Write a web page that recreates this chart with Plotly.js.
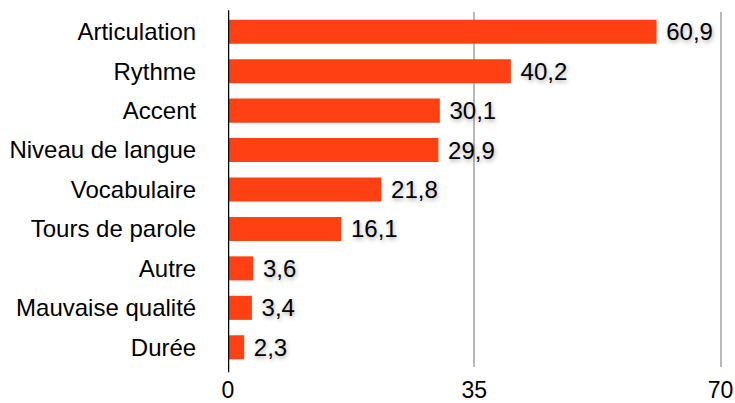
<!DOCTYPE html>
<html>
<head>
<meta charset="utf-8">
<script src="https://cdn.plot.ly/plotly-3.0.1.min.js"></script>
<style>html,body{margin:0;padding:0;background:#fff;}#chart{width:735px;height:403px;}</style>
</head>
<body>
<div id="chart"></div>
<script>
const categories = ["Articulation", "Rythme", "Accent", "Niveau de langue", "Vocabulaire", "Tours de parole", "Autre", "Mauvaise qualité", "Durée"];
const values = [60.9, 40.2, 30.1, 29.9, 21.8, 16.1, 3.6, 3.4, 2.3];
const xTickVals = [0, 35, 70];
const xTickText = ["0", "35", "70"];

const font = "Liberation Sans, Arial, Helvetica, sans-serif";

const trace = {
  type: "bar",
  orientation: "h",
  x: values,
  y: categories,
  marker: { color: "#FF4013" },
  texttemplate: "\u00a0%{x:.1f}",
  textposition: "outside",
  constraintext: "none",
  cliponaxis: false,
  textfont: { family: font, size: 24, color: "#000", shadow: "1px 2px 4px rgba(0,0,0,0.35)" },
  hoverinfo: "none"
};

const layout = {
  width: 735,
  height: 403,
  margin: { l: 228, r: 13, t: 12, b: 36, pad: 0 },
  paper_bgcolor: "#fff",
  plot_bgcolor: "#fff",
  separators: ", ",
  bargap: 0.39,
  showlegend: false,
  font: { family: font, size: 22, color: "#000" },
  xaxis: {
    range: [0, 70.2],
    tickvals: xTickVals,
    ticktext: xTickText,
    showgrid: true,
    gridcolor: "#b8b8b8",
    gridwidth: 2,
    zeroline: false,
    showline: false,
    ticks: "outside",
    ticklen: 2,
    tickcolor: "rgba(0,0,0,0)",
    tickfont: { family: font, size: 23, color: "#000" },
    fixedrange: true
  },
  yaxis: {
    type: "category",
    categoryorder: "array",
    categoryarray: categories,
    autorange: "reversed",
    showgrid: false,
    zeroline: false,
    showline: false,
    ticks: "outside",
    ticklen: 26,
    tickcolor: "rgba(0,0,0,0)",
    tickfont: { family: font, size: 24, color: "#000" },
    fixedrange: true
  },
  shapes: [{
    type: "line", xref: "x", yref: "paper",
    x0: 0, x1: 0, y0: -0.015, y1: 1.005,
    line: { color: "#000", width: 2.5 }
  }]
};

Plotly.newPlot("chart", [trace], layout, { displayModeBar: false, staticPlot: true });
</script>
</body>
</html>
